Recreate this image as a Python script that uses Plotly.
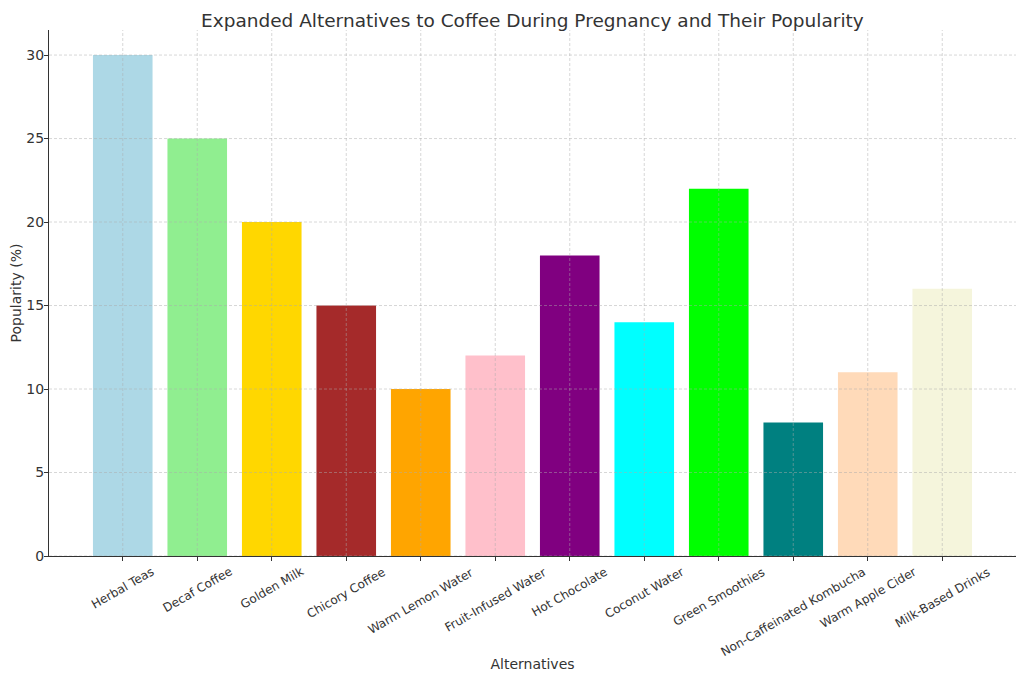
import plotly.graph_objects as go

categories = ["Herbal Teas", "Decaf Coffee", "Golden Milk", "Chicory Coffee", "Warm Lemon Water",
              "Fruit-Infused Water", "Hot Chocolate", "Coconut Water", "Green Smoothies",
              "Non-Caffeinated Kombucha", "Warm Apple Cider", "Milk-Based Drinks"]
popularity = [30, 25, 20, 15, 10, 12, 18, 14, 22, 8, 11, 16]
colors = ["#ADD8E6", "#90EE90", "#FFD700", "#A52A2A", "#FFA500", "#FFC0CB",
          "#800080", "#00FFFF", "#00FF00", "#008080", "#FFDAB9", "#F5F5DC"]
y_ticks = [0, 5, 10, 15, 20, 25, 30]

FONT = "DejaVu Sans"
TXT = "#333333"
GRID = dict(color="rgba(170,170,170,0.6)", width=0.8, dash="3px,2px")

fig = go.Figure(go.Bar(x=categories, y=popularity, marker=dict(color=colors, line=dict(width=0))))

annotations = []
for c in categories:
    annotations.append(dict(x=c, y=0, xref="x", yref="y", text=c, showarrow=False,
                            textangle=-30, xanchor="center", yanchor="top", yshift=-6,
                            font=dict(family=FONT, size=12, color=TXT)))

# title as a paper-anchored annotation, kept inside the figure
annotations.append(dict(text="Expanded Alternatives to Coffee During Pregnancy and Their Popularity",
                        xref="paper", yref="paper", x=0.5, y=1, yshift=10,
                        xanchor="center", yanchor="middle", showarrow=False,
                        font=dict(family=FONT, size=18.5, color=TXT)))

# grid drawn above the bars (as in the reference)
shapes = []
for c in categories:
    shapes.append(dict(type="line", xref="x", yref="paper", x0=c, x1=c, y0=0, y1=1,
                       line=GRID, layer="above"))
for t in y_ticks:
    shapes.append(dict(type="line", xref="paper", yref="y", x0=0, x1=1, y0=t, y1=t,
                       line=GRID, layer="above"))

fig.update_layout(
    width=1016, height=673,
    margin=dict(l=41, r=8, t=22, b=125),
    paper_bgcolor="white", plot_bgcolor="white",
    bargap=0.2,
    showlegend=False,
    annotations=annotations,
    shapes=shapes,
    xaxis=dict(range=[-0.99, 11.99], showticklabels=False, ticks="outside", ticklen=4,
               tickcolor=TXT, showline=True, linecolor=TXT, linewidth=1.2,
               showgrid=False, layer="above traces", zeroline=False, automargin=False,
               title=dict(text="Alternatives", font=dict(family=FONT, size=14, color=TXT), standoff=99)),
    yaxis=dict(range=[0, 31.5], tickvals=y_ticks, ticks="outside", ticklen=4, tickcolor=TXT,
               showline=True, linecolor=TXT, linewidth=1.2, ticklabelstandoff=-3,
               showgrid=False, layer="above traces", zeroline=False, automargin=False,
               tickfont=dict(family=FONT, size=14, color=TXT),
               title=dict(text="Popularity (%)", font=dict(family=FONT, size=14, color=TXT), standoff=5)),
)

fig.write_html("out.html")
